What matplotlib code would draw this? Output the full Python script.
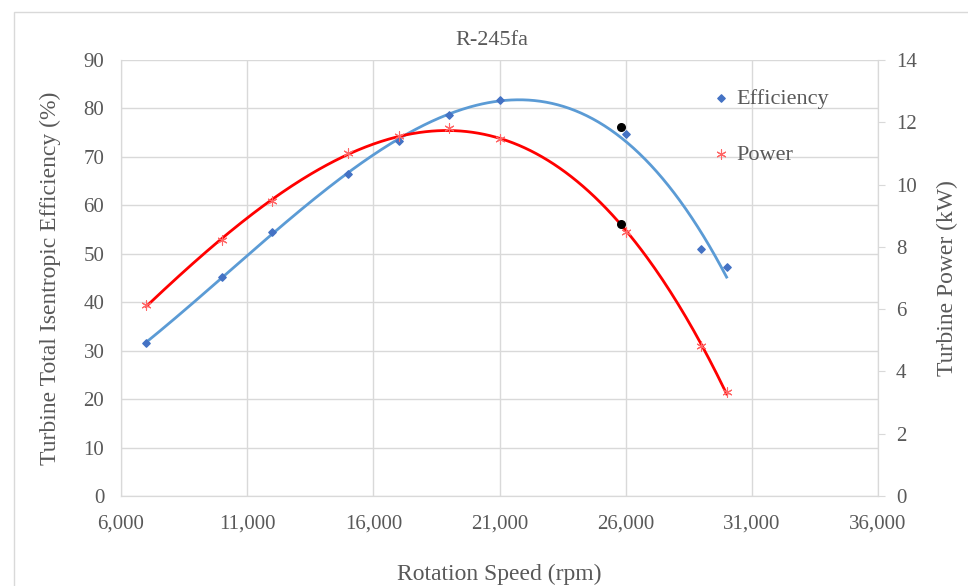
"""Turbine efficiency and power vs rotation speed (R-245fa)."""

import matplotlib.pyplot as plt
import numpy as np
from matplotlib.patches import Rectangle

plt.rcParams["font.family"] = ["Liberation Serif", "DejaVu Serif"]

# --- data ---
speed_rpm = [7000, 10000, 12000, 15000, 17000, 19000, 21000, 26000, 29000, 30000]
efficiency_pct = [31.6, 45.2, 54.5, 66.5, 73.3, 78.7, 81.7, 74.7, 51.0, 47.3]
power_kw = [6.13, 8.22, 9.47, 11.0, 11.56, 11.82, 11.46, 8.48, 4.82, 3.34]

# highlighted points (black dots)
mark_speed = [25800]
mark_eff = [76.2]
mark_power = [8.74]

x_ticks = [6000, 11000, 16000, 21000, 26000, 31000, 36000]
eff_ticks = list(range(0, 91, 10))
power_ticks = list(range(0, 15, 2))

TEXT = "#595959"
GRID = "#d9d9d9"

fig = plt.figure(figsize=(9.68, 5.86), dpi=100)
fig.patches.append(
    Rectangle((14 / 968, -0.1), 1.2, 1 - 12 / 586 + 0.1, transform=fig.transFigure,
              fill=False, edgecolor=GRID, linewidth=1)
)
ax = fig.add_axes([121 / 968, 90 / 586, 757 / 968, 436 / 586])
ax2 = ax.twinx()

# --- polynomial trend lines ---
xs = np.linspace(speed_rpm[0], speed_rpm[-1], 300)
eff_fit = np.polyval(np.polyfit(speed_rpm, efficiency_pct, 4), xs)
pow_fit = np.polyval(np.polyfit(speed_rpm, power_kw, 3), xs)

ax.plot(xs, eff_fit, color="#5b9bd5", linewidth=2, zorder=3)
ax.scatter(speed_rpm, efficiency_pct, marker="D", s=14, color="#4472c4", zorder=4,
           label="Efficiency")
ax.scatter(mark_speed, mark_eff, s=30, color="black", zorder=5)

ax2.plot(xs, pow_fit, color="#ff0000", linewidth=2, zorder=3)
ax2.scatter(speed_rpm, power_kw, marker=(6, 2, 0), s=45, color="#ff6666",
            linewidths=0.8, zorder=4, label="Power")
ax2.scatter(mark_speed, mark_power, s=30, color="black", zorder=5)

# --- axes formatting ---
ax.set_xlim(6000, 36000)
ax.set_ylim(0, 90)
ax2.set_ylim(0, 14)
ax.set_xticks(x_ticks)
ax.set_xticklabels([f"{v:,}" for v in x_ticks])
ax.set_yticks(eff_ticks)
ax2.set_yticks(power_ticks)

ax.grid(True, color=GRID, linewidth=1)
ax.set_axisbelow(True)
for a in (ax, ax2):
    a.spines["top"].set_visible(False)
    for side in ("left", "right", "bottom"):
        a.spines[side].set_color(GRID)
ax.tick_params(axis="y", length=0, labelsize=15, colors=TEXT, pad=12)
ax.tick_params(axis="x", length=0, labelsize=15, colors=TEXT, pad=13)
ax2.tick_params(axis="y", length=5, color=GRID, labelsize=15, labelcolor=TEXT, pad=8)

ax.set_xlabel("Rotation Speed (rpm)", fontsize=17, color=TEXT, labelpad=22)
ax.set_ylabel("Turbine Total Isentropic Efficiency (%)", fontsize=17, color=TEXT,
              labelpad=16)
ax2.set_ylabel("Turbine Power (kW)", fontsize=17, color=TEXT, labelpad=14)
ax.set_title("R-245fa", fontsize=16, color=TEXT, pad=11, x=0.49)

h1, l1 = ax.get_legend_handles_labels()
h2, l2 = ax2.get_legend_handles_labels()
ax2.legend(h1 + h2, l1 + l2, loc="upper left", bbox_to_anchor=(694 / 968, 1 - 68 / 586),
           bbox_transform=fig.transFigure, frameon=False, fontsize=16,
           handlelength=0.6, handletextpad=0.4, labelspacing=1.6, labelcolor=TEXT)

fig.savefig("out.png", dpi=100)
